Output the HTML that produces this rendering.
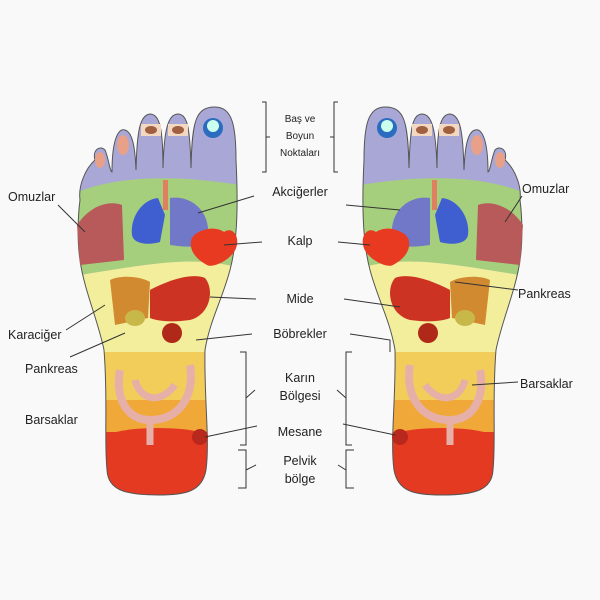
<!DOCTYPE html>
<html><head><meta charset="utf-8"><style>
html,body{margin:0;padding:0;background:#f9f9f9}
svg{display:block}
text{font-family:"Liberation Sans",sans-serif;fill:#222}
</style></head><body>
<svg width="600" height="600" viewBox="0 0 600 600">
<defs>
<clipPath id="fc">
<path d="M80,200 C78,185 86,168 95,160 C92,150 100,145 105,150 C108,156 110,172 112,172 C112,140 118,128 125,130 C132,132 135,145 136,170 C137,130 140,115 150,114 C160,114 163,130 163,168 C164,130 168,114 178,114 C188,114 190,130 191,168 C192,120 196,107 215,107 C232,107 236,125 236,160 C238,200 238,240 230,270 C222,300 210,320 205,350 C204,400 210,440 206,470 C202,492 185,495 158,495 C125,495 108,490 107,470 C104,440 108,400 104,350 C98,320 84,290 80,260 C77,240 78,215 80,200 Z"/>
</clipPath>
<g id="foot">
<g clip-path="url(#fc)">
<rect x="60" y="90" width="200" height="420" fill="#a9a7d6"/>
<path d="M60,200 C100,178 160,172 240,185 L260,185 L260,275 C200,250 150,265 60,278 Z" fill="#a6cf7d"/>
<path d="M60,278 C150,265 200,250 260,275 L260,355 L60,355 Z" fill="#f3ee9c"/>
<rect x="60" y="352" width="200" height="80" fill="#f2cd5a"/>
<rect x="60" y="400" width="200" height="35" fill="#f0a838"/>
<rect x="60" y="432" width="200" height="80" fill="#e53a22"/>
<ellipse cx="158" cy="438" rx="52" ry="10" fill="#e53a22"/>
</g>
<path d="M80,200 C78,185 86,168 95,160 C92,150 100,145 105,150 C108,156 110,172 112,172 C112,140 118,128 125,130 C132,132 135,145 136,170 C137,130 140,115 150,114 C160,114 163,130 163,168 C164,130 168,114 178,114 C188,114 190,130 191,168 C192,120 196,107 215,107 C232,107 236,125 236,160 C238,200 238,240 230,270 C222,300 210,320 205,350 C204,400 210,440 206,470 C202,492 185,495 158,495 C125,495 108,490 107,470 C104,440 108,400 104,350 C98,320 84,290 80,260 C77,240 78,215 80,200 Z" fill="none" stroke="#555" stroke-width="1"/>
<ellipse cx="100" cy="160" rx="5" ry="8" fill="#e8a088"/>
<ellipse cx="123" cy="145" rx="6" ry="10" fill="#e8a088"/>
<rect x="141" y="124" width="20" height="12" fill="#f2d8c0"/><ellipse cx="151" cy="130" rx="6" ry="4" fill="#a06040"/>
<rect x="168" y="124" width="20" height="12" fill="#f2d8c0"/><ellipse cx="178" cy="130" rx="6" ry="4" fill="#a06040"/>
<circle cx="213" cy="128" r="10" fill="#2a6cc0"/><circle cx="213" cy="126" r="6" fill="#cfe"/>
<path d="M77,225 C90,205 110,200 122,205 L124,260 L80,265 Z" fill="#b85a5a"/>
<path d="M158,198 C140,200 130,220 132,235 C134,245 150,245 160,242 L165,215 Z" fill="#3f5ed0"/>
<path d="M170,198 C190,195 210,210 208,235 C206,248 190,248 170,245 Z" fill="#7278c8"/>
<rect x="163" y="180" width="5" height="30" fill="#e08060"/>
<path d="M192,238 C197,230 214,225 224,232 C234,225 242,240 234,252 C227,262 212,268 207,265 C194,258 188,248 192,238 Z" fill="#e83a20"/>
<path d="M110,280 C120,275 140,276 150,282 L148,318 L115,325 Z" fill="#d18a30"/>
<path d="M150,290 C165,282 190,272 205,278 C215,290 210,315 190,320 C175,322 160,322 150,318 Z" fill="#cc3322"/>
<ellipse cx="172" cy="333" rx="10" ry="10" fill="#b02818"/>
<ellipse cx="135" cy="318" rx="10" ry="8" fill="#c8b84a"/>
<path d="M120,370 C115,395 125,420 150,420 C180,420 195,395 190,365" fill="none" stroke="#e6b0a8" stroke-width="8"/>
<path d="M135,380 C140,400 160,405 175,385" fill="none" stroke="#e6b0a8" stroke-width="7"/>
<path d="M150,420 L150,445" stroke="#e6b0a8" stroke-width="7"/>
<circle cx="200" cy="437" r="8" fill="#b8281c"/>
</g>
</defs>
<use href="#foot"/>
<use href="#foot" transform="translate(600,0) scale(-1,1)"/>
<g stroke="#333" stroke-width="1" fill="none">
<path d="M262,102 L266,102 L266,172 L262,172 M266,137 L270,137"/>
<path d="M338,102 L334,102 L334,172 L338,172 M334,137 L330,137"/>
<path d="M240,352 L246,352 L246,445 L240,445 M246,398 L255,390"/>
<path d="M352,352 L346,352 L346,445 L352,445 M346,398 L337,390"/>
<path d="M238,450 L246,450 L246,488 L238,488 M246,470 L256,465"/>
<path d="M354,450 L346,450 L346,488 L354,488 M346,470 L338,465"/>
<path d="M254,196 L198,213 M346,205 L400,210"/>
<path d="M262,242 L224,245 M338,242 L370,245"/>
<path d="M256,299 L210,297 M344,299 L400,307"/>
<path d="M252,334 L196,340 M350,334 L390,340 L390,352"/>
<path d="M257,426 L205,437 M343,424 L395,435"/>
<path d="M58,205 L85,232 M66,330 L105,305 M70,357 L125,333"/>
<path d="M522,196 L505,222 M518,290 L455,282 M518,382 L472,385"/>
</g>
<g font-size="12.5">
<text x="8" y="201">Omuzlar</text>
<text x="8" y="339">Karaciğer</text>
<text x="25" y="373">Pankreas</text>
<text x="25" y="424">Barsaklar</text>
<text x="522" y="193">Omuzlar</text>
<text x="518" y="298">Pankreas</text>
<text x="520" y="388">Barsaklar</text>
</g>
<g font-size="12.5" text-anchor="middle">
<text x="300" y="196">Akciğerler</text>
<text x="300" y="245">Kalp</text>
<text x="300" y="303">Mide</text>
<text x="300" y="338">Böbrekler</text>
<text x="300" y="382">Karın</text>
<text x="300" y="400">Bölgesi</text>
<text x="300" y="436">Mesane</text>
<text x="300" y="465">Pelvik</text>
<text x="300" y="483">bölge</text>
</g>
<g font-size="10" text-anchor="middle">
<text x="300" y="122">Baş ve</text>
<text x="300" y="139">Boyun</text>
<text x="300" y="156">Noktaları</text>
</g>
</svg>
</body></html>
